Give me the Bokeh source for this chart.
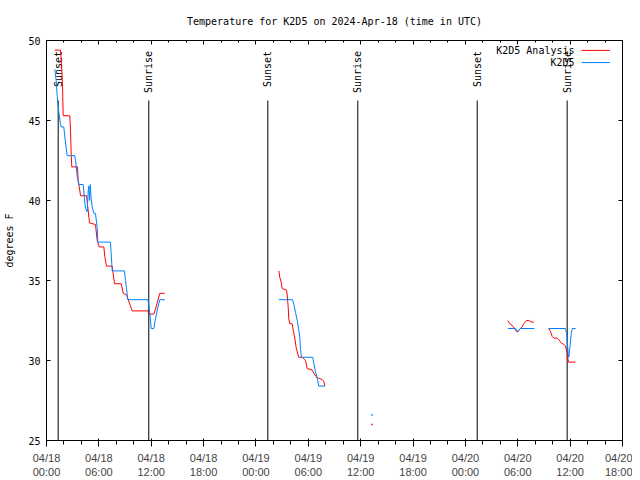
import math
from bokeh.plotting import figure
from bokeh.models import Range1d, FixedTicker, LinearAxis
from bokeh.core.properties import value
from bokeh.embed import file_html
from bokeh.resources import INLINE

NAN = float("nan")

# hours since 2024-04-18 00:00 UTC
red_seg1_h = [0.95, 1.60, 1.68, 1.83, 1.91, 2.67, 2.75, 2.83, 2.90, 3.55, 3.63, 3.90, 4.58, 4.73, 4.93,
              5.61, 5.81, 6.04, 6.57, 6.68, 6.88, 7.53, 7.79, 8.56, 8.79, 9.17, 9.36, 9.82, 11.61, 11.72,
              12.30, 12.49, 12.68, 12.98, 13.56]
red_seg1_t = [49.4, 49.4, 48.8, 47.3, 45.3, 45.3, 44.4, 42.9, 42.1, 42.1, 41.3, 40.3, 40.3, 39.6, 38.6,
              38.5, 37.5, 37.1, 37.1, 36.5, 35.9, 35.9, 34.8, 34.8, 34.2, 34.1, 33.8, 33.1, 33.1, 32.9,
              32.9, 33.2, 33.6, 34.2, 34.2]
red_seg2_h = [26.62, 26.73, 26.89, 27.01, 27.50, 27.58, 27.70, 27.76, 27.88, 28.15, 28.27, 28.45, 28.61,
              28.80, 28.91, 29.30, 29.48, 29.68, 29.87, 30.45, 30.63, 31.02, 31.20, 31.59, 31.78, 31.89]
red_seg2_t = [35.6, 35.2, 34.9, 34.5, 34.4, 34.1, 33.3, 32.6, 32.3, 32.3, 31.9, 31.4, 30.8,
              30.4, 30.2, 30.2, 30.1, 30.0, 29.5, 29.4, 29.2, 28.9, 28.9, 28.8, 28.7, 28.4]
red_seg3_h = [52.86, 53.09, 53.36, 53.63, 53.86, 54.00, 54.12, 54.31, 54.51, 54.69, 55.00, 55.27, 55.54, 55.84]
red_seg3_t = [32.5, 32.3, 32.2, 32.0, 31.8, 31.8, 31.9, 32.0, 32.1, 32.3, 32.5, 32.5, 32.4, 32.4]
red_seg4_h = [57.56, 57.75, 57.95, 58.13, 58.52, 58.70, 58.98, 59.28, 59.47, 59.59, 59.67, 59.74, 59.82, 60.62]
red_seg4_t = [32.0, 31.8, 31.5, 31.4, 31.4, 31.3, 31.1, 31.0, 30.9, 30.6, 30.4, 30.1, 29.9, 29.9]

blue_seg1_h = [0.95, 1.11, 1.23, 1.41, 1.60, 1.68, 1.98, 2.18, 2.37, 3.24, 3.32, 3.52, 3.70, 4.20, 4.35,
               4.47, 4.66, 4.78, 4.85, 4.93, 5.01, 5.12, 5.24, 5.42, 5.61, 5.81, 5.88, 7.33, 7.41, 7.53,
               8.94, 9.05, 9.32, 11.61, 11.72, 11.84, 12.00, 12.30, 12.41, 12.60, 12.75, 12.98, 13.56]
blue_seg1_t = [48.2, 47.5, 46.5, 45.5, 44.8, 44.6, 44.6, 43.6, 42.8, 42.8, 42.5, 41.5, 41.0, 41.0, 40.1,
               39.5, 39.3, 40.6, 40.9, 40.0, 41.0, 40.1, 39.6, 39.2, 39.2, 38.3, 37.4, 37.4, 36.7, 35.6,
               35.6, 35.0, 33.8, 33.8, 33.5, 32.9, 32.0, 32.0, 32.4, 32.9, 33.3, 33.8, 33.8]
blue_seg2_h = [26.62, 28.19, 28.34, 28.53, 28.73, 28.91, 29.03, 29.11, 29.22, 30.51, 30.63, 30.82, 31.02, 31.20, 31.89]
blue_seg2_t = [33.8, 33.8, 33.5, 33.0, 32.5, 31.9, 31.4, 30.7, 30.2, 30.2, 29.8, 29.3, 28.9, 28.4, 28.4]
blue_seg3_h = [52.86, 53.74, 54.00, 54.31, 55.92]
blue_seg3_t = [32.0, 32.0, 31.8, 32.0, 32.0]
blue_seg4_h = [57.56, 59.47, 59.59, 59.70, 59.78, 59.85, 59.97, 60.13, 60.24, 60.62]
blue_seg4_t = [32.0, 32.0, 31.7, 31.0, 30.4, 30.2, 30.8, 31.7, 32.0, 32.0]

# isolated single observations
red_dot_h = [37.3]
red_dot_t = [26.0]
blue_dot_h = [37.3]
blue_dot_t = [26.6]

event_hours = [1.34, 11.72, 25.36, 35.67, 49.35, 59.66]
event_labels = ["Sunset", "Sunrise", "Sunset", "Sunrise", "Sunset", "Sunrise"]

x_tick_hours = [0, 6, 12, 18, 24, 30, 36, 42, 48, 54, 60, 66]
x_tick_labels = ["04/18\n00:00", "04/18\n06:00", "04/18\n12:00", "04/18\n18:00",
                 "04/19\n00:00", "04/19\n06:00", "04/19\n12:00", "04/19\n18:00",
                 "04/20\n00:00", "04/20\n06:00", "04/20\n12:00", "04/20\n18:00"]
y_ticks = [25, 30, 35, 40, 45, 50]

TITLE = "Temperature for K2D5 on 2024-Apr-18 (time in UTC)"
RED = "#ff0000"
BLUE = "#0080ff"
FONT = "DejaVu Sans Mono"
FS = "10px"


def join(*segs):
    out = []
    for s in segs:
        if out:
            out.append(NAN)
        out.extend(s)
    return out


red_h = join(red_seg1_h, red_seg2_h, red_seg3_h, red_seg4_h)
red_t = join(red_seg1_t, red_seg2_t, red_seg3_t, red_seg4_t)
blue_h = join(blue_seg1_h, blue_seg2_h, blue_seg3_h, blue_seg4_h)
blue_t = join(blue_seg1_t, blue_seg2_t, blue_seg3_t, blue_seg4_t)

p = figure(frame_width=576, frame_height=400,
           x_range=Range1d(0, 66), y_range=Range1d(25, 50),
           output_backend="svg", toolbar_location=None,
           min_border_left=46, min_border_right=10, min_border_top=40, min_border_bottom=32)
p.background_fill_color = "white"
p.border_fill_color = "white"
p.outline_line_color = "black"
p.outline_line_width = 1
p.xgrid.visible = False
p.ygrid.visible = False

p.title.text = TITLE
p.title.align = "center"
p.title.text_font = FONT
p.title.text_font_size = FS
p.title.text_font_style = "normal"
p.title.text_color = "black"
p.title.standoff = 27

xticker = FixedTicker(ticks=x_tick_hours, minor_ticks=list(range(0, 67, 2)))
yticker = FixedTicker(ticks=y_ticks, minor_ticks=[])

p.xaxis.ticker = xticker
p.xaxis.major_label_overrides = {h: lab for h, lab in zip(x_tick_hours, x_tick_labels)}
p.yaxis.ticker = yticker

top_ax = LinearAxis(ticker=xticker)
right_ax = LinearAxis(ticker=yticker)
p.add_layout(top_ax, "above")
p.add_layout(right_ax, "right")

for ax in [p.xaxis[0], p.yaxis[0], top_ax, right_ax]:
    ax.axis_line_color = "black"
    ax.major_tick_line_color = "black"
    ax.minor_tick_line_color = "black"
    ax.major_tick_in = 4
    ax.major_tick_out = 0
    ax.minor_tick_in = 2
    ax.minor_tick_out = 0
    ax.major_label_text_font = FONT
    ax.major_label_text_font_size = FS
    ax.major_label_text_color = "black"

p.xaxis[0].major_label_standoff = 10
p.yaxis[0].major_label_standoff = 6
p.yaxis[0].axis_label = "degrees F"
p.yaxis[0].axis_label_text_font = FONT
p.yaxis[0].axis_label_text_font_size = FS
p.yaxis[0].axis_label_text_font_style = "normal"
p.yaxis[0].axis_label_text_color = "black"
p.yaxis[0].axis_label_standoff = 10

top_ax.major_label_overrides = {h: "" for h in x_tick_hours}
right_ax.major_label_overrides = {t: "" for t in y_ticks}
for ax in [top_ax, right_ax]:
    ax.major_label_standoff = 0

# sunrise / sunset markers
p.segment(x0=event_hours, y0=[25] * len(event_hours), x1=event_hours, y1=[46.25] * len(event_hours),
          line_color="black", line_width=1)
p.text(x=event_hours, y=[49.35] * len(event_hours), text=event_labels, angle=math.pi / 2,
       text_align="right", text_baseline="middle", text_font=value(FONT), text_font_size=FS,
       text_color="black")

# data
p.line(red_h, red_t, line_color=RED, line_width=1)
p.line(blue_h, blue_t, line_color=BLUE, line_width=1)
p.scatter(red_dot_h, red_dot_t, marker="square", size=1.5, fill_color=RED, line_color=None)
p.scatter(blue_dot_h, blue_dot_t, marker="square", size=1.5, fill_color=BLUE, line_color=None)

# legend (gnuplot style: label then sample line)
leg_text_x = 60.5
leg_key_x0, leg_key_x1 = 61.3, 64.55
leg_rows = [49.38, 48.62]
p.text(x=[leg_text_x] * 2, y=leg_rows, text=["K2D5 Analysis", "K2D5"], text_align="right",
       text_baseline="middle", text_font=value(FONT), text_font_size=FS, text_color="black")
p.segment(x0=[leg_key_x0] * 2, y0=leg_rows, x1=[leg_key_x1] * 2, y1=leg_rows,
          line_color=[RED, BLUE], line_width=1)

open("out.html", "w").write(file_html(p, INLINE))
